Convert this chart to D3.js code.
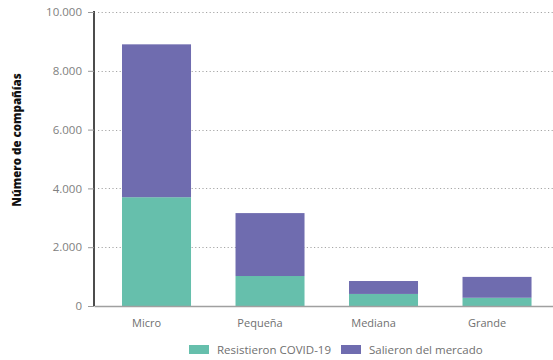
<!DOCTYPE html>
<html><head><meta charset="utf-8">
<script src="https://cdn.jsdelivr.net/npm/d3@7"></script>
<style>
html,body{margin:0;padding:0;background:#fff;}
svg{display:block;font-family:"Open Sans",sans-serif;}
</style></head>
<body><svg id="chart" width="553" height="360"></svg>
<script>
const categories = ["Micro", "Pequeña", "Mediana", "Grande"];
const resistieron = [3700, 1020, 410, 280];
const salieron = [5200, 2140, 440, 710];
const seriesNames = ["Resistieron COVID-19", "Salieron del mercado"];
const seriesColors = ["#66bfac", "#6f6caf"];
const yTicks = [0, 2000, 4000, 6000, 8000, 10000];
const yTickLabels = ["0", "2.000", "4.000", "6.000", "8.000", "10.000"];
const yTitle = "Número de compañías";

(function () {
const svg = d3.select("#chart");
const pL = 94, pR = 553, pT = 12, pB = 306;

const x = d3.scaleBand().domain(categories).range([pL, pR])
  .paddingInner(0.392).paddingOuter(0.218).align(0.566);
const y = d3.scaleLinear().domain([0, 10000]).range([pB, pT]);

// gridlines
svg.append("g").selectAll("line").data(yTicks.filter(d => d > 0)).join("line")
  .attr("x1", pL + 4).attr("x2", pR)
  .attr("y1", d => Math.round(y(d)) + 0.5).attr("y2", d => Math.round(y(d)) + 0.5)
  .attr("stroke", "#a6a6a6").attr("stroke-width", 1).attr("stroke-dasharray", "1.2,2.4");

// stacked data
const table = categories.map((c, i) => ({cat: c, r: resistieron[i], s: salieron[i]}));
const stack = d3.stack().keys(["r", "s"])(table);
svg.append("g").selectAll("g").data(stack).join("g")
  .attr("fill", (d, i) => seriesColors[i])
  .selectAll("rect").data(d => d).join("rect")
  .attr("x", d => x(d.data.cat)).attr("width", x.bandwidth())
  .attr("y", d => y(d[1])).attr("height", d => y(d[0]) - y(d[1]));

// x axis
const xAxis = svg.append("g").attr("transform", `translate(0,${pB})`)
  .call(d3.axisBottom(x).tickSize(0).tickPadding(13));
xAxis.select(".domain").attr("stroke", "#a0a0a0").attr("stroke-width", 1.5);
xAxis.selectAll("text").attr("dx", -10).attr("fill", "#707070")
  .style("font-size", "11px").style("font-family", "Open Sans, sans-serif");

// y axis
const yAxis = svg.append("g").attr("transform", `translate(${pL},0)`)
  .call(d3.axisLeft(y).tickValues(yTicks).tickFormat((d, i) => yTickLabels[i]).tickSize(6).tickPadding(6));
yAxis.select(".domain").attr("stroke", "#111").attr("stroke-width", 1.5).attr("d", `M0,${pT - 1}V${pB}`);
yAxis.selectAll(".tick line").attr("stroke", "#999");
yAxis.selectAll("text").attr("fill", "#808080")
  .style("font-size", "11.5px").style("font-family", "Open Sans, sans-serif");

// y title
svg.append("text").attr("transform", `translate(21,140) rotate(-90)`)
  .attr("text-anchor", "middle").attr("font-weight", 800).attr("font-size", 11.5)
  .attr("fill", "#111").style("font-family", "Open Sans, sans-serif").text(yTitle);

// legend
const legendX = [189, 341];
const lg = svg.append("g").selectAll("g").data(seriesNames).join("g")
  .attr("transform", (d, i) => `translate(${legendX[i]},345)`);
lg.append("rect").attr("width", 20).attr("height", 9).attr("fill", (d, i) => seriesColors[i]);
lg.append("text").attr("x", 28).attr("y", 8.5).attr("fill", "#707070")
  .style("font-size", "11.5px").text(d => d);
})();
</script></body></html>
